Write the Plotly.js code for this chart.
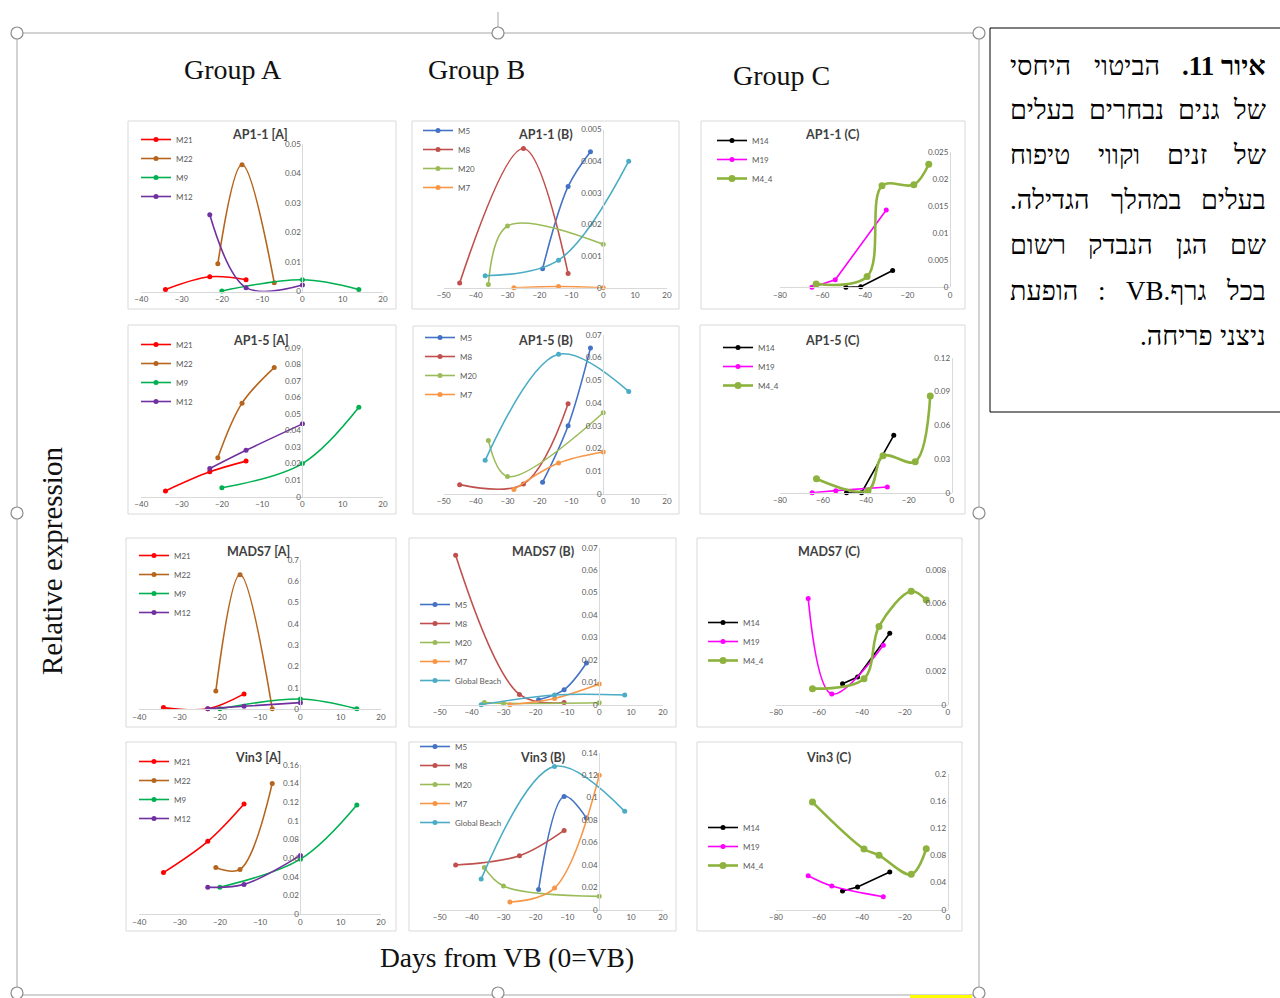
<!DOCTYPE html>
<html><head><meta charset="utf-8">
<script src="https://cdn.plot.ly/plotly-3.0.1.min.js"></script>
<style>body{margin:0;background:#fff;overflow:hidden}</style>
</head><body><div id="chart" style="width:1280px;height:998px"></div>
<script>
// ---------- DATA: days from VB for each line ----------
const daysM21 = [-34, -23, -14];
const daysM22 = [-21, -15, -7];
const daysM9  = [-20, 0, 14];
const daysM12 = [-23, -14, 0];
const daysM5  = [-19, -11, -4];
const daysM8  = [-45, -25, -11];
const daysM20 = [-36, -30, 0];
const daysM7  = [-28, -14, 0];
const daysGB  = [-37, -14, 8];
const daysM14 = [-49, -42, -27];
const daysM19 = [-65, -54, -30];
const daysM44 = [-63, -39, -32, -17, -10];

// ---------- DATA: relative expression ----------
// AP1-1
const ap11A_M21 = [0.0007, 0.005, 0.004];
const ap11A_M22 = [0.0094, 0.043, 0.003];
const ap11A_M9  = [0.0002, 0.004, 0.0007];
const ap11A_M12 = [0.026, 0.0013, 0.0022];
const ap11B_M5  = [0.0006, 0.0032, 0.0043];
const ap11B_M8  = [0.00015, 0.0044, 0.00045];
const ap11B_M20 = [0.0001, 0.00195, 0.00137];
const ap11B_M7  = [0.0, 0.00004, 0.0];
const ap11B_GB  = [0.00038, 0.00087, 0.004];
const ap11C_M14 = [0.0, 0.0001, 0.0031];
const ap11C_M19 = [0.0, 0.0014, 0.0143];
const ap11C_M44 = [0.0006, 0.002, 0.0188, 0.019, 0.0228];
// AP1-5
const ap15A_M21 = [0.0035, 0.015, 0.0215];
const ap15A_M22 = [0.0235, 0.0565, 0.078];
const ap15A_M9  = [0.0054, 0.020, 0.054];
const ap15A_M12 = [0.017, 0.028, 0.044];
const ap15B_M5  = [0.0051, 0.030, 0.0643];
const ap15B_M8  = [0.004, 0.0043, 0.0397];
const ap15B_M20 = [0.0235, 0.0076, 0.0357];
const ap15B_M7  = [0.0018, 0.0135, 0.0184];
const ap15B_GB  = [0.0147, 0.0615, 0.0451];
const ap15C_M14 = [0.0, 0.0, 0.051];
const ap15C_M19 = [0.0, 0.0018, 0.005];
const ap15C_M44 = [0.0124, 0.0018, 0.0329, 0.0276, 0.086];
// MADS7
const mads7A_M21 = [0.008, 0.002, 0.072];
const mads7A_M22 = [0.086, 0.63, 0.002];
const mads7A_M9  = [0.002, 0.048, 0.002];
const mads7A_M12 = [0.003, 0.014, 0.031];
const mads7B_M5  = [0.0022, 0.0067, 0.0186];
const mads7B_M8  = [0.0666, 0.0046, 0.001];
const mads7B_M20 = [0.001, 0.0006, 0.0009];
const mads7B_M7  = [0.0, 0.0028, 0.0092];
const mads7B_GB  = [0.0, 0.0043, 0.0043];
const mads7C_M14 = [0.00124, 0.00164, 0.00423];
const mads7C_M19 = [0.0063, 0.00063, 0.00352];
const mads7C_M44 = [0.00095, 0.00154, 0.00464, 0.00672, 0.0062];
// Vin3
const vin3A_M21 = [0.0446, 0.078, 0.118];
const vin3A_M22 = [0.050, 0.048, 0.140];
const vin3A_M9  = [0.029, 0.059, 0.117];
const vin3A_M12 = [0.029, 0.032, 0.063];
const vin3B_M5  = [0.018, 0.101, 0.0817];
const vin3B_M8  = [0.0398, 0.0481, 0.0707];
const vin3B_M20 = [0.0377, 0.0211, 0.0119];
const vin3B_M7  = [0.0068, 0.0193, 0.1198];
const vin3B_GB  = [0.0273, 0.1278, 0.0877];
const vin3C_M14 = [0.0276, 0.0335, 0.0557];
const vin3C_M19 = [0.0502, 0.035, 0.0192];
const vin3C_M44 = [0.159, 0.0897, 0.0803, 0.0522, 0.090];

// ---------- TEXT ----------
const groupLabels = ['Group A', 'Group B', 'Group C'];
const yTitle = 'Relative expression';
const xTitle = 'Days from VB (0=VB)';
const captionBold = 'איור 11.';
const captionLines = ['הביטוי היחסי', 'של גנים נבחרים בעלים', 'של זנים וקווי טיפוח', 'בעלים במהלך הגדילה.', 'שם הגן הנבדק רשום', 'בכל גרף.VB : הופעת', 'ניצני פריחה.'];

// ---------- STYLE ----------
const COL = {M21:'#FF0000', M22:'#B5651D', M9:'#00B050', M12:'#7030A0', M5:'#4472C4', M8:'#C0504D',
  M20:'#9BBB59', M7:'#F79646', 'Global Beach':'#4BACC6', M14:'#000000', M19:'#FF00FF', M4_4:'#8DB33E'};
const SANS = "Lato, 'Open Sans', Arial, sans-serif";
const SERIF = "'Liberation Serif', 'DejaVu Serif', 'Times New Roman', serif";
const W = 1280, H = 998;
const px = v => v / W, py = v => 1 - v / H;

function A(m21, m22, m9, m12){ return [['M21',daysM21,m21,1],['M22',daysM22,m22,1],['M9',daysM9,m9,1],['M12',daysM12,m12,1]]; }
function B(m5, m8, m20, m7, gb, gbLeg){ return [['M5',daysM5,m5,1],['M8',daysM8,m8,1],['M20',daysM20,m20,1],['M7',daysM7,m7,1],['Global Beach',daysGB,gb,1,gbLeg]]; }
function C(m14, m19, m44, s19){ return [['M14',daysM14,m14,0],['M19',daysM19,m19,s19],['M4_4',daysM44,m44,1]]; }

const panels = [
 {t:'AP1-1 [A]', tp:[260,134], box:[128,121,396,309], xd:[141.3,383], yd:[144,291.5], xr:[-40,20], dx:10, yr:[0,0.05], dy:0.01, lg:[136,125], lines:A(ap11A_M21,ap11A_M22,ap11A_M9,ap11A_M12)},
 {t:'AP1-1 (B)', tp:[545,134], box:[412,121,679,309], xd:[443.7,667], yd:[129.5,287.7], xr:[-50,20], dx:10, yr:[0,0.005], dy:0.001, lg:[418,116], lines:B(ap11B_M5,ap11B_M8,ap11B_M20,ap11B_M7,ap11B_GB,false)},
 {t:'AP1-1 (C)', tp:[832,134], box:[701,121,965,309], xd:[780,950], yd:[152.3,287.3], xr:[-80,0], dx:20, yr:[0,0.025], dy:0.005, lg:[712,126], lines:C(ap11C_M14,ap11C_M19,ap11C_M44,0)},
 {t:'AP1-5 [A]', tp:[261,340], box:[128,325,396,514], xd:[141.3,383], yd:[347.7,496.7], xr:[-40,20], dx:10, yr:[0,0.09], dy:0.01, lg:[136,330], lines:A(ap15A_M21,ap15A_M22,ap15A_M9,ap15A_M12)},
 {t:'AP1-5 (B)', tp:[545,340], box:[413,326,679,514], xd:[443.7,667], yd:[335,493.7], xr:[-50,20], dx:10, yr:[0,0.07], dy:0.01, lg:[420,323], lines:B(ap15B_M5,ap15B_M8,ap15B_M20,ap15B_M7,ap15B_GB,false)},
 {t:'AP1-5 (C)', tp:[832,340], box:[700,325,965,514], xd:[780,951.7], yd:[357.7,492.7], xr:[-80,0], dx:20, yr:[0,0.12], dy:0.03, lg:[718,333], lines:C(ap15C_M14,ap15C_M19,ap15C_M44,0)},
 {t:'MADS7 [A]', tp:[258,551], box:[126,538,396,727], xd:[139.3,381], yd:[559.7,709.3], xr:[-40,20], dx:10, yr:[0,0.7], dy:0.1, lg:[134,541], lines:A(mads7A_M21,mads7A_M22,mads7A_M9,mads7A_M12)},
 {t:'MADS7 (B)', tp:[543,551], box:[409,538,676,727], xd:[439.7,663], yd:[547.7,704.7], xr:[-50,20], dx:10, yr:[0,0.07], dy:0.01, lg:[415,590], lines:B(mads7B_M5,mads7B_M8,mads7B_M20,mads7B_M7,mads7B_GB,true)},
 {t:'MADS7 (C)', tp:[829,551], box:[697,538,962,727], xd:[776,947.7], yd:[569.7,704.7], xr:[-80,0], dx:20, yr:[0,0.008], dy:0.002, lg:[703,608], lines:C(mads7C_M14,mads7C_M19,mads7C_M44,1)},
 {t:'Vin3 [A]', tp:[258,757], box:[126,742,396,931], xd:[139.3,381], yd:[764.7,914.3], xr:[-40,20], dx:10, yr:[0,0.16], dy:0.02, lg:[134,747], lines:A(vin3A_M21,vin3A_M22,vin3A_M9,vin3A_M12)},
 {t:'Vin3 (B)', tp:[542,757], box:[409,742,676,931], xd:[439.7,663], yd:[752.7,909.7], xr:[-50,20], dx:10, yr:[0,0.14], dy:0.02, lg:[415,732], lines:B(vin3B_M5,vin3B_M8,vin3B_M20,vin3B_M7,vin3B_GB,true)},
 {t:'Vin3 (C)', tp:[828,757], box:[697,742,962,931], xd:[776,947.7], yd:[774.3,909.7], xr:[-80,0], dx:20, yr:[0,0.2], dy:0.04, lg:[703,813], lines:C(vin3C_M14,vin3C_M19,vin3C_M44,1)}
];

const traces = [];
const layout = {
  width: W, height: H, margin: {l:0, r:0, t:0, b:0},
  paper_bgcolor: '#fff', plot_bgcolor: 'rgba(0,0,0,0)',
  showlegend: true, shapes: [], annotations: []
};

panels.forEach((p, k) => {
  const id = k === 0 ? '' : String(k + 1);
  const legId = 'legend' + id;
  layout.shapes.push({type:'rect', xref:'paper', yref:'paper', x0:px(p.box[0]), x1:px(p.box[2]), y0:py(p.box[3]), y1:py(p.box[1]), line:{color:'#D9D9D9', width:1}, layer:'below'});
  const d0 = px(p.xd[0]), d1 = px(p.xd[1]);
  layout['xaxis' + id] = {domain:[d0, d1], range:p.xr, anchor:'y' + id, showline:true, linecolor:'#D9D9D9', linewidth:1,
    showgrid:false, zeroline:false, ticks:'', dtick:p.dx, tick0:0, tickfont:{family:SANS, size:8, color:'#595959'}, fixedrange:true};
  layout['yaxis' + id] = {domain:[py(p.yd[1]), py(p.yd[0])], range:p.yr, anchor:'free',
    position: d0 + (0 - p.xr[0]) / (p.xr[1] - p.xr[0]) * (d1 - d0),
    showline:true, linecolor:'#D9D9D9', linewidth:1, showgrid:false, zeroline:false, ticks:'', dtick:p.dy, tick0:0,
    tickfont:{family:SANS, size:8, color:'#595959'}, fixedrange:true};
  layout[legId] = {x:px(p.lg[0]), y:py(p.lg[1]), xanchor:'left', yanchor:'top', bgcolor:'rgba(0,0,0,0)', borderwidth:0,
    font:{family:SANS, size:8, color:'#595959'}, itemwidth:30, traceorder:'normal', tracegroupgap:0};
  layout.annotations.push({xref:'paper', yref:'paper', x:px(p.tp[0]), y:py(p.tp[1]), text:p.t, showarrow:false,
    xanchor:'center', yanchor:'middle', font:{family:SANS, size:12.5, color:'#404040', weight:'bold'}});
  p.lines.forEach(l => {
    const name = l[0];
    const big = name === 'M4_4';
    traces.push({type:'scatter', mode:'lines+markers', name:name, x:l[1], y:l[2], xaxis:'x' + id, yaxis:'y' + id,
      legend:legId, showlegend: l[4] === undefined ? true : l[4], cliponaxis:false,
      line:{color:COL[name], width: big ? 2.6 : 1.6, shape: l[3] ? 'spline' : 'linear', smoothing:1},
      marker:{color:COL[name], size: big ? 7 : 5}, hoverinfo:'skip'});
  });
});

// Group headers & axis titles
[[233,69],[476,70],[781,76]].forEach((pos, i) => {
  layout.annotations.push({xref:'paper', yref:'paper', x:px(pos[0]), y:py(pos[1]), text:groupLabels[i], showarrow:false,
    xanchor:'center', yanchor:'middle', font:{family:SERIF, size:28, color:'#111'}});
});
layout.annotations.push({xref:'paper', yref:'paper', x:px(52), y:py(561), text:yTitle, textangle:-90, showarrow:false,
  xanchor:'center', yanchor:'middle', font:{family:SERIF, size:29, color:'#111'}});
layout.annotations.push({xref:'paper', yref:'paper', x:px(507), y:py(957), text:xTitle, showarrow:false,
  xanchor:'center', yanchor:'middle', font:{family:SERIF, size:27.5, color:'#111'}});

// Caption box (Hebrew), justified between left and right edges
layout.shapes.push({type:'rect', xref:'paper', yref:'paper', x0:px(990), x1:px(1290), y0:py(412), y1:py(28), line:{color:'#000', width:1}});
const RLE = '\u202B', PDF = '\u202C';
const CAP_SIZE = 27, CAP_L = 1012, CAP_R = 1268;
const lineY = [66, 110, 155, 200, 245, 291, 336];
const ctx = document.createElement('canvas').getContext('2d');
function measure(t, bold){ ctx.font = (bold ? 'bold ' : '') + CAP_SIZE + "px 'Liberation Serif', 'DejaVu Serif', serif"; return ctx.measureText(t).width; }
const capLines = [[[captionBold, true]].concat(captionLines[0].split(' ').map(w => [w, false]))]
  .concat(captionLines.slice(1).map(l => l.split(' ').map(w => [w, false])));
capLines.forEach((toks, i) => {
  const last = i === capLines.length - 1;
  const widths = toks.map(t => measure(t[0], t[1]));
  const total = widths.reduce((a, b) => a + b, 0);
  const gap = last || toks.length < 2 ? measure(' ', false) : (CAP_R - CAP_L - total) / (toks.length - 1);
  let x = CAP_R;
  toks.forEach((t, j) => {
    layout.annotations.push({xref:'paper', yref:'paper', x:px(x), y:py(lineY[i]), text:RLE + t[0] + PDF, showarrow:false,
      xanchor:'right', yanchor:'middle', font:{family:SERIF, size:CAP_SIZE, color:'#000', weight: t[1] ? 'bold' : 'normal'}});
    x -= widths[j] + gap;
  });
});

// Selection frame with handles (document object frame)
layout.shapes.push({type:'rect', xref:'paper', yref:'paper', x0:px(17), x1:px(979), y0:py(995), y1:py(33), line:{color:'#A6A6A6', width:1}, layer:'below'});
layout.shapes.push({type:'line', xref:'paper', yref:'paper', x0:px(498), x1:px(498), y0:py(12), y1:py(27), line:{color:'#A6A6A6', width:1}});
layout.shapes.push({type:'rect', xref:'paper', yref:'paper', x0:px(910), x1:px(972), y0:py(998), y1:py(995), fillcolor:'#FFFF00', line:{width:0}});
[[17,33],[498,33],[979,33],[17,513],[979,513],[17,993],[498,993],[979,993]].forEach(h => {
  layout.shapes.push({type:'circle', xref:'paper', yref:'paper', x0:px(h[0]-6), x1:px(h[0]+6), y0:py(h[1]+6), y1:py(h[1]-6),
    fillcolor:'#fff', line:{color:'#8C8C8C', width:1.2}});
});

Plotly.newPlot('chart', traces, layout, {staticPlot:true, displayModeBar:false});
</script></body></html>
